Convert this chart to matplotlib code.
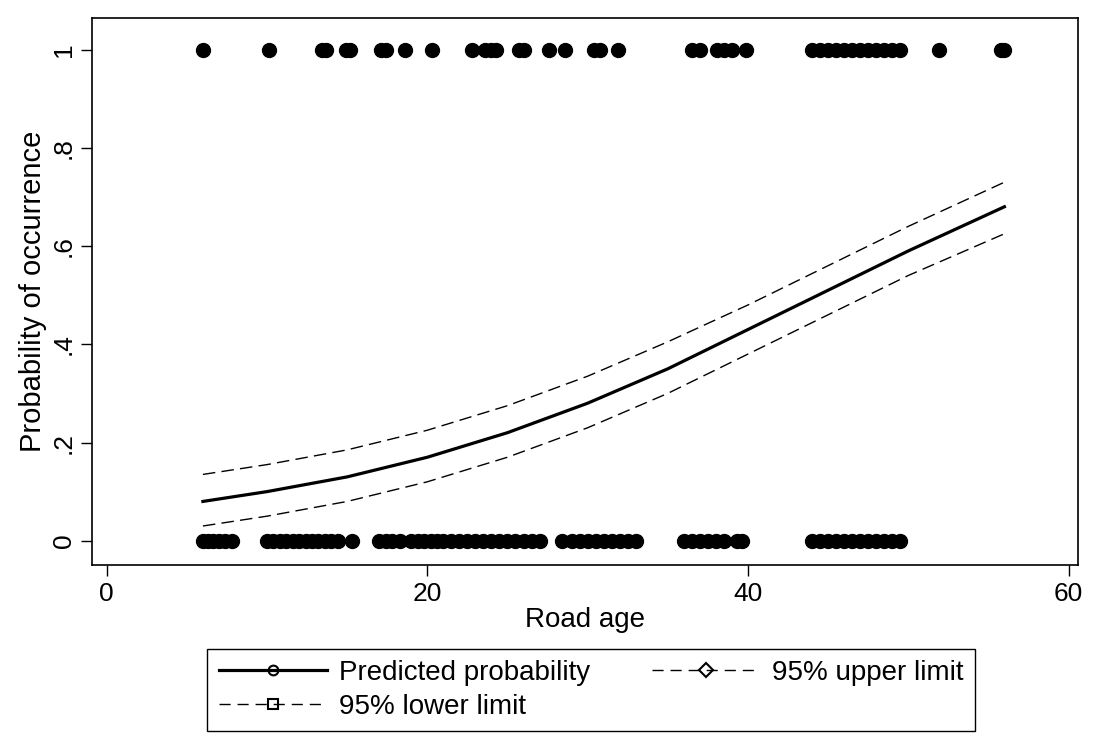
import numpy as np
import matplotlib.pyplot as plt
from matplotlib.lines import Line2D

plt.rcParams['font.family'] = ['Liberation Sans', 'DejaVu Sans']

# road age values for observed occurrences (y = 1) and non-occurrences (y = 0)
age_present = [6.0, 10.1, 13.4, 13.7, 14.9, 15.2, 17.1, 17.4, 18.6, 20.3,
               22.8, 23.6, 24.0, 24.3, 25.7, 26.0, 27.6, 28.6, 30.4, 30.8,
               31.9, 36.5, 37.0, 38.1, 38.5, 39.0, 39.9,
               44.0, 44.5, 45.0, 45.5, 46.0, 46.5, 47.0, 47.5, 48.0, 48.5,
               49.0, 49.5, 51.9, 55.8, 56.0]
age_absent = [6.0, 6.3, 6.6, 7.0, 7.4, 7.8,
              10.0, 10.4, 10.8, 11.2, 11.6, 12.0, 12.4, 12.8, 13.2, 13.6,
              14.0, 14.4, 15.3,
              17.0, 17.4, 17.8, 18.3, 19.0, 19.4, 19.8, 20.2, 20.6, 21.0,
              21.5, 22.0, 22.5, 23.0, 23.5, 24.0, 24.5, 25.0, 25.5, 26.0,
              26.5, 27.0,
              28.4, 29.0, 29.5, 30.0, 30.5, 31.0, 31.5, 32.0, 32.5, 33.0,
              36.0, 36.5, 37.0, 37.5, 38.0, 38.5, 39.3, 39.6,
              44.0, 44.5, 45.0, 45.5, 46.0, 46.5, 47.0, 47.5, 48.0, 48.5,
              49.0, 49.5]

# fitted curve and 95% limits
age_fit = [6, 10, 15, 20, 25, 30, 35, 40, 45, 50, 56]
p_fit = [0.08, 0.10, 0.13, 0.17, 0.22, 0.28, 0.35, 0.43, 0.51, 0.59, 0.68]
p_upper = [0.135, 0.155, 0.185, 0.225, 0.275, 0.335, 0.405, 0.48, 0.56, 0.64, 0.73]
p_lower = [0.03, 0.05, 0.08, 0.12, 0.17, 0.23, 0.30, 0.38, 0.46, 0.54, 0.625]

xticks = [0, 20, 40, 60]
yticks = [0, 0.2, 0.4, 0.6, 0.8, 1]
ytick_labels = ["0", ".2", ".4", ".6", ".8", "1"]

fig = plt.figure(figsize=(10.99, 7.37), dpi=100)
ax = fig.add_axes([0.084, 0.233, 0.897, 0.743])

ax.scatter(age_present, np.ones(len(age_present)), s=100, color="black", zorder=3)
ax.scatter(age_absent, np.zeros(len(age_absent)), s=100, color="black", zorder=3)
ax.plot(age_fit, p_fit, color="black", lw=2.3)
ax.plot(age_fit, p_upper, color="black", lw=1, ls=(0, (9, 4.5)))
ax.plot(age_fit, p_lower, color="black", lw=1, ls=(0, (9, 4.5)))

ax.set_xlim(-0.9, 60.6)
ax.set_ylim(-0.05, 1.065)
ax.set_xticks(xticks)
ax.set_yticks(yticks)
ax.set_yticklabels(ytick_labels, rotation=90, va="center")
ax.tick_params(direction="out", length=8, width=1, labelsize=19, colors="black", pad=4)
for s in ax.spines.values():
    s.set_color("black")
    s.set_linewidth(1.2)
ax.set_xlabel("Road age", fontsize=20, labelpad=1)
ax.set_ylabel("Probability of occurrence", fontsize=21, labelpad=3)

h_pred = Line2D([], [], color="black", lw=2.3, marker="o", ms=7, mfc="none", mew=1.5)
h_up = Line2D([], [], color="black", lw=1, ls=(0, (8, 5)), marker="D", ms=7, mfc="none", mew=1.5)
h_low = Line2D([], [], color="black", lw=1, ls=(0, (8, 5)), marker="s", ms=7, mfc="none", mew=1.5)
handles = [h_pred, h_low, h_up]
labels = ["Predicted probability", "95% lower limit", "95% upper limit"]
leg = fig.legend(handles, labels, loc="center", bbox_to_anchor=(0.538, 0.064), ncol=2,
                 numpoints=1, fontsize=20, handlelength=3.9, handletextpad=0.45,
                 columnspacing=2.2, fancybox=False, edgecolor="black", framealpha=1,
                 borderpad=0.4, labelspacing=0.3)
leg.get_frame().set_linewidth(1)

fig.savefig("out.png", dpi=100)
